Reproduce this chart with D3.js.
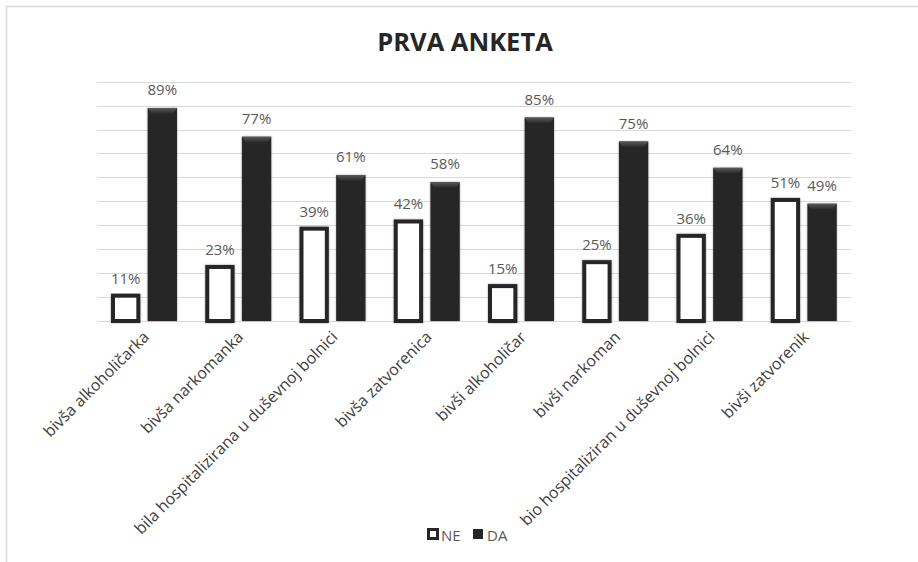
<!DOCTYPE html>
<html>
<head>
<meta charset="utf-8">
<script src="https://cdn.jsdelivr.net/npm/d3@7"></script>
<style>
  body { margin: 0; background: #fff; }
  text { font-family: "Open Sans", sans-serif; }
</style>
</head>
<body>
<div class="chart"></div>
<script>
var width = 918,
    height = 562;

var categories = ["bivša alkoholičarka", "bivša narkomanka", "bila hospitalizirana u duševnoj bolnici",
    "bivša zatvorenica", "bivši alkoholičar", "bivši narkoman",
    "bio hospitaliziran u duševnoj bolnici", "bivši zatvorenik"];
var series = ["NE", "DA"];
var neValues = [11, 23, 39, 42, 15, 25, 36, 51];
var daValues = [89, 77, 61, 58, 85, 75, 64, 49];
var yTicks = [0, 10, 20, 30, 40, 50, 60, 70, 80, 90, 100];

var rows = categories.map(function(c, i) {
    return {cat: c, NE: neValues[i], DA: daValues[i]};
});

var svg = d3.select(".chart").append("svg")
    .attr("width", width)
    .attr("height", height);

var defs = svg.append("defs");
var grad = defs.append("linearGradient")
    .attr("id", "bevel").attr("x1", 0).attr("y1", 0).attr("x2", 0).attr("y2", 1);
grad.append("stop").attr("offset", 0).attr("stop-color", "#5a5a5a");
grad.append("stop").attr("offset", 1).attr("stop-color", "#262626");
var sh = defs.append("filter").attr("id", "shadow")
    .attr("x", "-30%").attr("y", "-10%").attr("width", "160%").attr("height", "120%");
sh.append("feDropShadow").attr("dx", 0).attr("dy", 0).attr("stdDeviation", 1.2)
    .attr("flood-color", "#000").attr("flood-opacity", 0.35);

// chart frame
svg.append("rect")
    .attr("x", 6.5).attr("y", 6.5)
    .attr("width", 1000).attr("height", 1000)
    .attr("fill", "none").attr("stroke", "#d9d9d9").attr("stroke-width", 1.5);

var x0 = d3.scaleBand().domain(categories).range([97, 851]);
var x1 = d3.scaleBand().domain(series).range([14, 80]).paddingInner(0.2);
var y = d3.scaleLinear().domain([0, 100]).range([321, 81.7]);

// gridlines
svg.append("g")
    .selectAll("line")
    .data(yTicks)
    .enter().append("line")
    .attr("x1", 97).attr("x2", 851)
    .attr("y1", function(d) { return Math.round(y(d)) + 0.5; })
    .attr("y2", function(d) { return Math.round(y(d)) + 0.5; })
    .attr("stroke", "#d9d9d9").attr("stroke-width", 1);

// title
svg.append("text")
    .attr("x", 465).attr("y", 51)
    .attr("text-anchor", "middle")
    .style("font-size", "25.5px").style("font-weight", "bold")
    .attr("fill", "#262626")
    .text("PRVA ANKETA");

var groups = svg.append("g").selectAll("g")
    .data(rows)
    .enter().append("g")
    .attr("transform", function(d) { return "translate(" + x0(d.cat) + ",0)"; });

// NE bars: white with thick dark outline
groups.append("rect")
    .attr("x", x1("NE") + 2)
    .attr("width", x1.bandwidth() - 4)
    .attr("y", function(d) { return y(d.NE) + 1; })
    .attr("height", function(d) { return y(0) - y(d.NE) - 1; })
    .attr("fill", "#fff")
    .attr("stroke", "#262626").attr("stroke-width", 4)
    .attr("filter", "url(#shadow)");

// DA bars: dark with bevelled top
groups.append("rect")
    .attr("x", x1("DA"))
    .attr("width", x1.bandwidth())
    .attr("y", function(d) { return y(d.DA); })
    .attr("height", function(d) { return y(0) - y(d.DA); })
    .attr("fill", "#262626")
    .attr("filter", "url(#shadow)");
groups.append("path")
    .attr("d", function(d) {
        var xa = x1("DA"), w = x1.bandwidth(), t = y(d.DA);
        return "M" + xa + "," + t + "h" + w + "l-4,6h" + (-(w - 8)) + "z";
    })
    .attr("fill", "url(#bevel)");

// value labels
groups.append("text")
    .attr("x", x1("NE") + x1.bandwidth() / 2)
    .attr("y", function(d) { return y(d.NE) - 11; })
    .attr("text-anchor", "middle")
    .style("font-size", "15px").attr("fill", "#595959")
    .text(function(d) { return d.NE + "%"; });
groups.append("text")
    .attr("x", x1("DA") + x1.bandwidth() / 2)
    .attr("y", function(d) { return y(d.DA) - 13; })
    .attr("text-anchor", "middle")
    .style("font-size", "15px").attr("fill", "#595959")
    .text(function(d) { return d.DA + "%"; });

// category labels
svg.append("g").selectAll("text")
    .data(categories)
    .enter().append("text")
    .attr("transform", function(d) {
        return "translate(" + (x0(d) + x0.bandwidth() / 2 + 6) + ",338) rotate(-45)";
    })
    .attr("text-anchor", "end")
    .style("font-size", "16px").attr("fill", "#404040")
    .text(function(d) { return d; });

// legend
var legend = svg.append("g").attr("transform", "translate(427,528)");
legend.append("rect").attr("x", 1.5).attr("y", 1.5).attr("width", 9).attr("height", 9)
    .attr("fill", "#fff").attr("stroke", "#262626").attr("stroke-width", 3);
legend.append("text").attr("x", 14).attr("y", 13)
    .style("font-size", "15px").attr("fill", "#595959").text("NE");
legend.append("rect").attr("x", 46).attr("y", 1).attr("width", 10).attr("height", 10)
    .attr("fill", "#262626");
legend.append("text").attr("x", 60).attr("y", 13)
    .style("font-size", "15px").attr("fill", "#595959").text("DA");
</script>
</body>
</html>
